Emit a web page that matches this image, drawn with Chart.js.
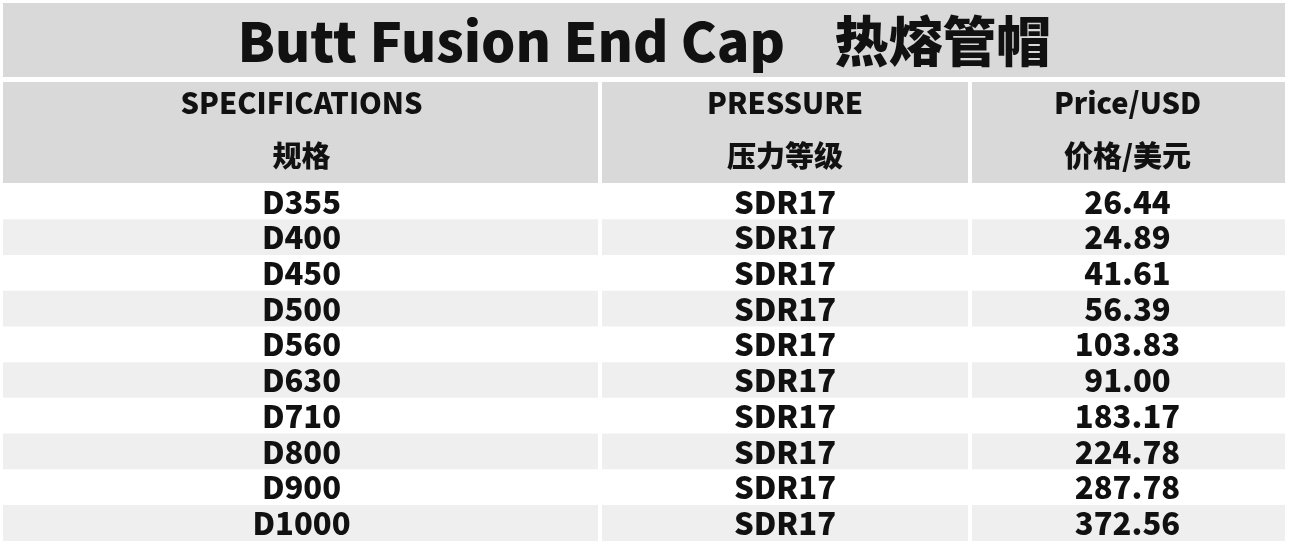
<!DOCTYPE html>
<html>
<head>
<meta charset="utf-8">
<script src="https://cdn.jsdelivr.net/npm/chart.js@4/dist/chart.umd.min.js"></script>
<style>
  body { margin: 0; background: #fff; }
  canvas { display: block; }
</style>
</head>
<body>
<canvas id="tbl" width="1291" height="544"></canvas>
<script>
// Table data
const title = "Butt Fusion End Cap    热熔管帽";
const headersEn = ["SPECIFICATIONS", "PRESSURE", "Price/USD"];
const headersZh = ["规格", "压力等级", "价格/美元"];
const specs = ["D355", "D400", "D450", "D500", "D560", "D630", "D710", "D800", "D900", "D1000"];
const pressure = ["SDR17", "SDR17", "SDR17", "SDR17", "SDR17", "SDR17", "SDR17", "SDR17", "SDR17", "SDR17"];
const prices = [26.44, 24.89, 41.61, 56.39, 103.83, 91.00, 183.17, 224.78, 287.78, 372.56];

// column widths (layout)
const colWidths = [597, 370, 315];
const total = colWidths.reduce((a, b) => a + b, 0);
const edges = [0];
colWidths.forEach(w => edges.push(edges[edges.length - 1] + w));

const FONT = '"Noto Sans CJK SC", "Noto Sans", sans-serif';

const tablePlugin = {
  id: 'tablePlugin',
  beforeDraw(chart) {
    const { ctx, chartArea } = chart;
    ctx.save();
    ctx.fillStyle = '#fff';
    ctx.fillRect(0, 0, chart.width, chart.height);
    // title band
    ctx.fillStyle = '#d9d9d9';
    ctx.fillRect(chartArea.left, 3, chartArea.right - chartArea.left, 74);
    // header band
    ctx.fillRect(chartArea.left, 82, chartArea.right - chartArea.left, chartArea.top - 83);
    ctx.restore();
  },
  afterDraw(chart) {
    const { ctx, chartArea } = chart;
    const x = chart.scales.x, y = chart.scales.y;
    ctx.save();
    // column separators
    ctx.strokeStyle = '#fff';
    ctx.lineWidth = 4;
    for (let i = 1; i < edges.length - 1; i++) {
      const px = x.getPixelForValue(edges[i]);
      ctx.beginPath();
      ctx.moveTo(px, 82);
      ctx.lineTo(px, chartArea.bottom);
      ctx.stroke();
    }
    ctx.fillStyle = '#111';
    ctx.textAlign = 'center';
    ctx.textBaseline = 'middle';
    ctx.font = '900 54px ' + FONT;
    ctx.fillText(title, (chartArea.left + chartArea.right) / 2, 41);
    const centers = colWidths.map((w, i) => x.getPixelForValue(edges[i] + w / 2));
    ctx.font = '900 29px ' + FONT;
    headersEn.forEach((h, i) => ctx.fillText(h, centers[i], 103));
    headersZh.forEach((h, i) => ctx.fillText(h, centers[i], 156));
    ctx.font = '900 31px ' + FONT;
    specs.forEach((s, r) => {
      const py = y.getPixelForValue(r);
      ctx.fillText(s, centers[0], py);
      ctx.fillText(pressure[r], centers[1], py);
      ctx.fillText(prices[r].toFixed(2), centers[2], py);
    });
    ctx.restore();
  }
};

new Chart(document.getElementById('tbl'), {
  type: 'bar',
  data: {
    labels: specs,
    datasets: [{
      data: specs.map(() => total),
      backgroundColor: specs.map((_, i) => i % 2 ? '#efefef' : '#ffffff'),
      barPercentage: 1,
      categoryPercentage: 1,
      borderWidth: 0
    }]
  },
  options: {
    indexAxis: 'y',
    responsive: false,
    animation: false,
    devicePixelRatio: 1,
    layout: { padding: { top: 184, left: 3, right: 6, bottom: 3 } },
    scales: {
      x: { display: false, min: 0, max: total },
      y: { display: false }
    },
    plugins: { legend: { display: false }, tooltip: { enabled: false } }
  },
  plugins: [tablePlugin]
});
</script>
</body>
</html>
